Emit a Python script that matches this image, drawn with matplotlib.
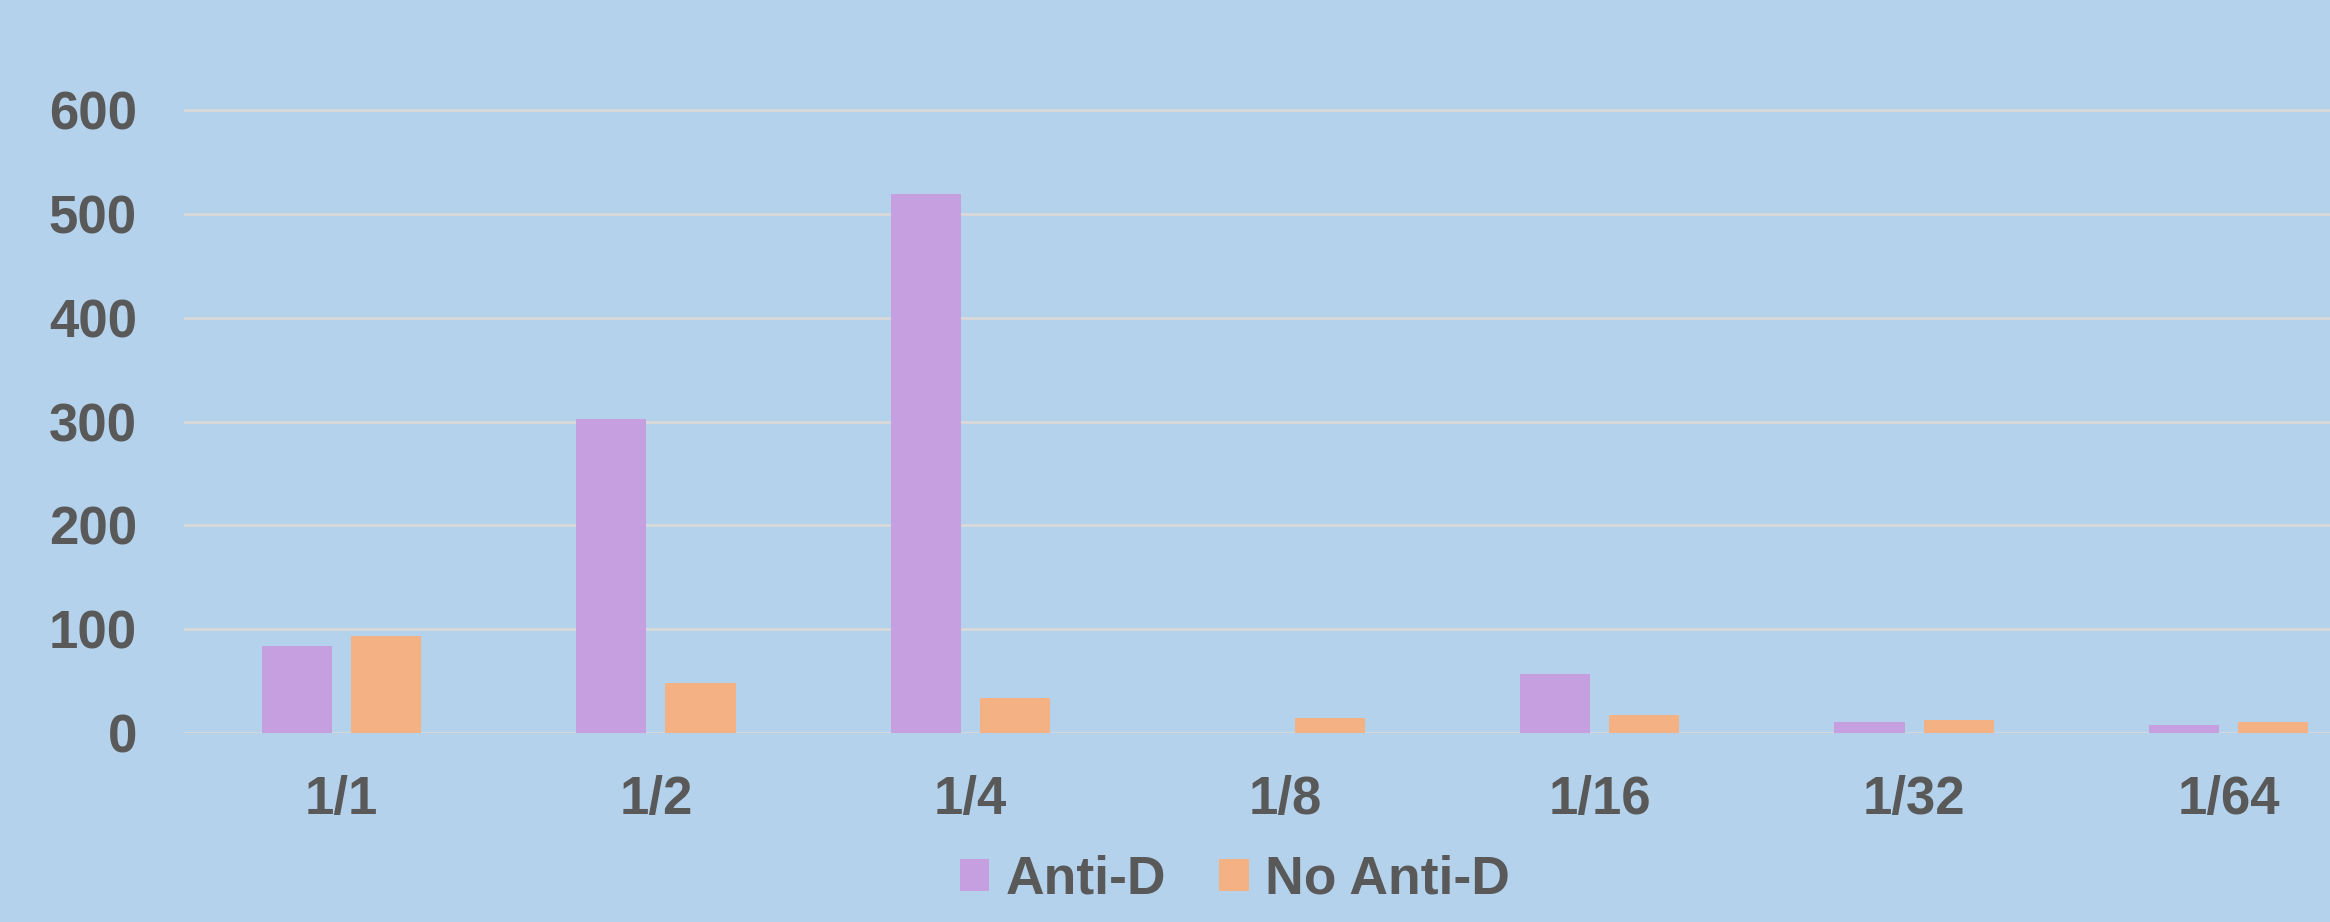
import matplotlib
matplotlib.use("Agg")
import matplotlib.pyplot as plt
import numpy as np

categories = ["1/1", "1/2", "1/4", "1/8", "1/16", "1/32", "1/64"]
anti_d = [84, 302, 519, 0, 57, 11, 8]
no_anti_d = [94, 48, 34, 15, 18, 13, 11]
series_names = ["Anti-D", "No Anti-D"]
yticks = [0, 100, 200, 300, 400, 500, 600]

bg = "#B4D2EB"
c_purple = "#C59FE0"
c_orange = "#F4B183"
txt = "#595959"
grid_c = "#D9D9D9"

plt.rcParams['font.family'] = ['Liberation Sans', 'DejaVu Sans']
plt.rcParams['font.weight'] = 'bold'

fig = plt.figure(figsize=(23.3, 9.22), dpi=100, facecolor=bg)
ax = fig.add_axes([0.079, 0.2047, 0.945, 0.7212])
ax.set_facecolor(bg)

x = np.arange(len(categories))
w = 0.223
off = 0.142
ax.bar(x - off, anti_d, width=w, color=c_purple, label=series_names[0], zorder=3)
ax.bar(x + off, no_anti_d, width=w, color=c_orange, label=series_names[1], zorder=3)

ax.set_xlim(-0.5, len(categories) - 0.5)
ax.set_ylim(0, 640)
ax.set_yticks(yticks)
ax.set_yticklabels([str(v) for v in yticks])
ax.set_xticks(x)
ax.set_xticklabels(categories)
ax.grid(axis='y', color=grid_c, linewidth=2, zorder=0)
ax.set_axisbelow(True)
for s in ax.spines.values():
    s.set_visible(False)
ax.tick_params(axis='both', length=0, labelsize=38, labelcolor=txt)
ax.tick_params(axis='y', pad=34)
ax.tick_params(axis='x', pad=30)
for lbl in ax.get_xticklabels() + ax.get_yticklabels():
    lbl.set_fontweight('bold')

leg = fig.legend(loc='center', bbox_to_anchor=(0.530, 0.046), ncol=2, frameon=False,
                 fontsize=38.5, handlelength=0.55, handleheight=0.55,
                 handletextpad=0.3, columnspacing=1.0)
for t in leg.get_texts():
    t.set_color(txt)
    t.set_fontweight('bold')

fig.savefig("out.png", dpi=100, facecolor=bg)
